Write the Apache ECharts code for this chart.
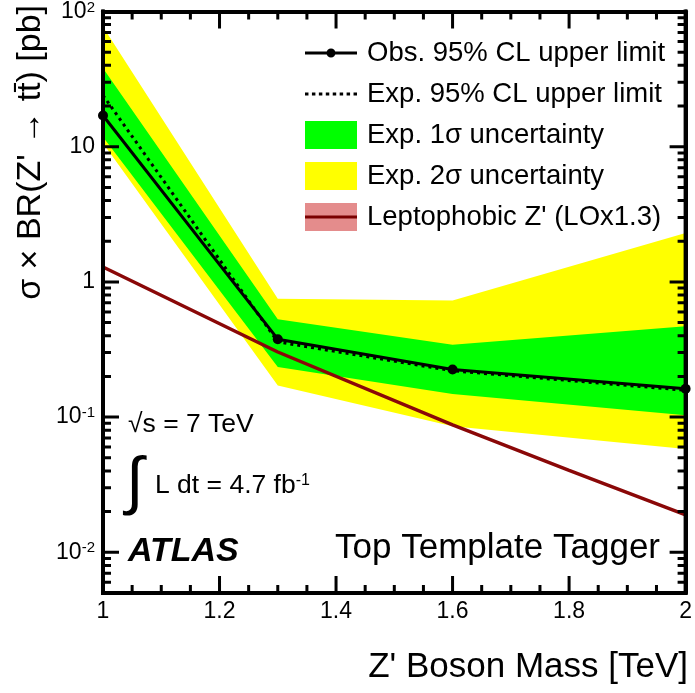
<!DOCTYPE html>
<html>
<head>
<meta charset="utf-8">
<script src="https://cdn.jsdelivr.net/npm/echarts@6/dist/echarts.min.js"></script>
<style>html,body{margin:0;padding:0;background:#fff}#c{width:695px;height:693px}</style>
</head>
<body>
<div id="c"></div>
<script>
// ---- data ----
const massPoints = [1.0, 1.3, 1.6, 2.0];
const obsLimit   = [17.0, 0.377, 0.225, 0.162];
const expLimit   = [24.0, 0.36, 0.22, 0.158];
const exp1sLow   = [11.8, 0.235, 0.148, 0.103];
const exp1sHigh  = [38.0, 0.53, 0.343, 0.47];
const exp2sLow   = [10.6, 0.171, 0.0855, 0.058];
const exp2sHigh  = [77.0, 0.75, 0.73, 2.3];
const theoryMass = [1.0, 1.3, 1.6, 1.8, 2.0];
const theoryXsec = [1.29, 0.303, 0.0875, 0.0404, 0.0189];
const xTickValues = [1.0, 1.2, 1.4, 1.6, 1.8, 2.0];
const xTickLabels = ['1', '1.2', '1.4', '1.6', '1.8', '2'];
const xMinorTicks = [1.05, 1.1, 1.15, 1.25, 1.3, 1.35, 1.45, 1.5, 1.55,
  1.65, 1.7, 1.75, 1.85, 1.9, 1.95];
const yTickValues = [0.01, 0.1, 1, 10, 100];
const yTickLabels = ['10{sup|-2}', '10{sup|-1}', '1', '10', '10{sup|2}'];
const yMinorTicks = [0.006, 0.007, 0.008, 0.009,
  0.02, 0.03, 0.04, 0.05, 0.06, 0.07, 0.08, 0.09,
  0.2, 0.3, 0.4, 0.5, 0.6, 0.7, 0.8, 0.9,
  2, 3, 4, 5, 6, 7, 8, 9,
  20, 30, 40, 50, 60, 70, 80, 90];
const legendNames = ['Obs. 95% CL upper limit', 'Exp. 95% CL upper limit',
  'Exp. 1σ uncertainty', 'Exp. 2σ uncertainty', "Leptophobic Z' (LOx1.3)"];

const FONT = "'Liberation Sans', Arial, Helvetica, sans-serif";
const X_MIN = 1, X_MAX = 2, Y_MIN = 0.005, Y_MAX = 100;

// legend icon paths (52 x 28 box)
let dots = '';
for (let x = 0; x < 52; x += 7) dots += 'M' + x + ',12.5h3.5v3h-3.5z';
const iconObs = 'path://M0,12.5H52V15.5H0Z M30.5,14A4.5,4.5,0,1,1,21.5,14A4.5,4.5,0,1,1,30.5,14Z';
const iconExp = 'path://' + dots;

function bandSeries(id, name, low, high, color, z) {
  return {
    id: id, type: 'custom', name: name, z: z, silent: true,
    itemStyle: { color: color },
    data: massPoints.map((m, i) => [m, low[i], high[i]]),
    encode: { x: 0, y: [1, 2] },
    renderItem: function (params, api) {
      if (params.dataIndex !== 0) return null;
      const pts = [];
      for (let i = 0; i < massPoints.length; i++) pts.push(api.coord([massPoints[i], high[i]]));
      for (let i = massPoints.length - 1; i >= 0; i--) pts.push(api.coord([massPoints[i], low[i]]));
      return { type: 'polygon', shape: { points: pts }, style: { fill: color, stroke: null } };
    }
  };
}

function yLabel(v) {
  const e = Math.log10(v), r = Math.round(e);
  if (Math.abs(e - r) > 1e-6 || r < -2 || r > 2) return '';
  return yTickLabels[r + 2];
}
function xLabel(v) {
  for (let i = 0; i < xTickValues.length; i++) if (Math.abs(v - xTickValues[i]) < 1e-6) return xTickLabels[i];
  return '';
}

const lineCol = { color: '#000', width: 4 };
function xAxisCfg(pos, showLabel) {
  return {
    type: 'value', min: X_MIN, max: X_MAX, interval: 0.2, position: pos,
    axisLine: { show: true, onZero: false, lineStyle: lineCol },
    axisTick: { show: false },
    axisLabel: { show: showLabel, fontSize: 23, fontFamily: FONT, color: '#000', margin: 7, formatter: xLabel },
    splitLine: { show: false }
  };
}
function yAxisCfg(pos, showLabel) {
  return {
    type: 'log', logBase: 10, min: Y_MIN, max: Y_MAX, position: pos,
    axisLine: { show: true, onZero: false, lineStyle: lineCol },
    axisTick: { show: false },
    axisLabel: { show: showLabel, fontSize: 23, fontFamily: FONT, color: '#000', margin: 8, formatter: yLabel,
      rich: { sup: { fontSize: 15, fontFamily: FONT, color: '#000', verticalAlign: 'top' } } },
    splitLine: { show: false }
  };
}

const textGraphics = [
  { type: 'text', x: 31, y: 5, rotation: Math.PI / 2,
    style: { text: "σ × BR(Z' → tt\u0304) [pb]", font: '34px ' + FONT, fill: '#000', align: 'right', verticalAlign: 'middle' } },
  { type: 'text', x: 688, y: 667,
    style: { text: "Z' Boson Mass [TeV]", font: '35px ' + FONT, fill: '#000', align: 'right', verticalAlign: 'middle' } },
  { type: 'text', x: 128, y: 425,
    style: { text: '√s = 7 TeV', font: '26.5px ' + FONT, fill: '#000', align: 'left', verticalAlign: 'middle' } },
  { type: 'text', x: 126, y: 484,
    style: { text: '∫', font: '64px ' + FONT, fill: '#000', align: 'left', verticalAlign: 'middle' } },
  { type: 'text', x: 155, y: 486,
    style: { text: '{t|L dt = 4.7 fb}{s|-1}', align: 'left', verticalAlign: 'middle',
      rich: { t: { fontSize: 26.5, fontFamily: FONT, fill: '#000' }, s: { fontSize: 16, fontFamily: FONT, fill: '#000', verticalAlign: 'top' } } } },
  { type: 'text', x: 128, y: 552,
    style: { text: 'ATLAS', font: 'italic bold 34px ' + FONT, fill: '#000', align: 'left', verticalAlign: 'middle' } },
  { type: 'text', x: 660, y: 548,
    style: { text: 'Top Template Tagger', font: '35px ' + FONT, fill: '#000', align: 'right', verticalAlign: 'middle' } }
];

const chart = echarts.init(document.getElementById('c'), null, { renderer: 'canvas' });
chart.setOption({
  animation: false,
  grid: { left: 103, right: 8, top: 5, bottom: 100, containLabel: false },
  xAxis: [xAxisCfg('bottom', true), xAxisCfg('top', false)],
  yAxis: [yAxisCfg('left', true), yAxisCfg('right', false)],
  legend: {
    orient: 'vertical', left: 300, top: 34,
    itemWidth: 52, itemHeight: 28, itemGap: 13,
    selectedMode: false,
    textStyle: { fontSize: 27.5, fontFamily: FONT, color: '#000', lineHeight: 28, padding: [0, 0, 0, 5] },
    data: [
      { name: legendNames[0], icon: iconObs, itemStyle: { color: '#000', borderWidth: 0 } },
      { name: legendNames[1], icon: iconExp, itemStyle: { color: '#000', borderWidth: 0 } },
      { name: legendNames[2], icon: 'rect', itemStyle: { color: '#00ff00', borderWidth: 0 } },
      { name: legendNames[3], icon: 'rect', itemStyle: { color: '#ffff00', borderWidth: 0 } },
      { name: legendNames[4], icon: 'rect', itemStyle: { color: '#e48c8c', borderWidth: 0 } }
    ]
  },
  series: [
    bandSeries('band2s', legendNames[3], exp2sLow, exp2sHigh, '#ffff00', 1),
    bandSeries('band1s', legendNames[2], exp1sLow, exp1sHigh, '#00ff00', 2),
    {
      id: 'theory', type: 'line', name: legendNames[4], z: 3, symbol: 'none', silent: true,
      data: theoryMass.map((m, i) => [m, theoryXsec[i]]),
      lineStyle: { color: '#8a0808', width: 3.5 }, itemStyle: { color: '#8a0808' }
    },
    {
      id: 'exp', type: 'line', name: legendNames[1], z: 4, symbol: 'none', silent: true,
      data: massPoints.map((m, i) => [m, expLimit[i]]),
      lineStyle: { color: '#000', width: 3, type: [3, 4] }, itemStyle: { color: '#000' }
    },
    {
      id: 'obs', type: 'line', name: legendNames[0], z: 5, symbol: 'circle', symbolSize: 10, silent: true,
      data: massPoints.map((m, i) => [m, obsLimit[i]]),
      lineStyle: { color: '#000', width: 3 }, itemStyle: { color: '#000' }
    }
  ]
});

// frame tick marks: short segments whose ends are found through the chart's own scales
const toPx = (x, y) => chart.convertToPixel({ gridIndex: 0 }, [x, y]);
const toData = (px, py) => chart.convertFromPixel({ gridIndex: 0 }, [px, py]);
const tickSegs = [];
function tick(x, y, side, len) {
  const p = toPx(x, y);
  let end;
  if (side === 'B') end = [x, toData(p[0], p[1] - len)[1]];
  else if (side === 'T') end = [x, toData(p[0], p[1] + len)[1]];
  else if (side === 'L') end = [toData(p[0] + len, p[1])[0], y];
  else end = [toData(p[0] - len, p[1])[0], y];
  tickSegs.push([x, y], end, [end[0], '-']);
}
xTickValues.forEach(m => { tick(m, Y_MIN, 'B', 17); tick(m, Y_MAX, 'T', 17); });
xMinorTicks.forEach(m => { tick(m, Y_MIN, 'B', 8); tick(m, Y_MAX, 'T', 8); });
yTickValues.forEach(v => { tick(X_MIN, v, 'L', 16); tick(X_MAX, v, 'R', 16); });
yMinorTicks.forEach(v => { tick(X_MIN, v, 'L', 8); tick(X_MAX, v, 'R', 8); });

// left/right frame edges redrawn above the bands
const frameSegs = [[X_MIN, Y_MIN], [X_MIN, Y_MAX], [X_MIN, '-'], [X_MAX, Y_MIN], [X_MAX, Y_MAX]];

// dark centre line of the theory legend symbol (legend swatch spans x 305..357 at y 217)
const la = toData(305, 217), lb = toData(357, 217);

chart.setOption({
  series: [
    { id: 'ticks', type: 'line', z: 12, silent: true, clip: false, symbol: 'none', connectNulls: false,
      data: tickSegs, lineStyle: { color: '#000', width: 3, cap: 'butt' } },
    { id: 'frame', type: 'line', z: 12, silent: true, clip: false, symbol: 'none', connectNulls: false,
      data: frameSegs, lineStyle: { color: '#000', width: 4, cap: 'square' } },
    { id: 'legendTheoryLine', type: 'line', z: 12, silent: true, clip: false, symbol: 'none',
      data: [[la[0], la[1]], [lb[0], lb[1]]], lineStyle: { color: '#7a0000', width: 3, cap: 'butt' } }
  ],
  graphic: textGraphics
});
</script>
</body>
</html>
